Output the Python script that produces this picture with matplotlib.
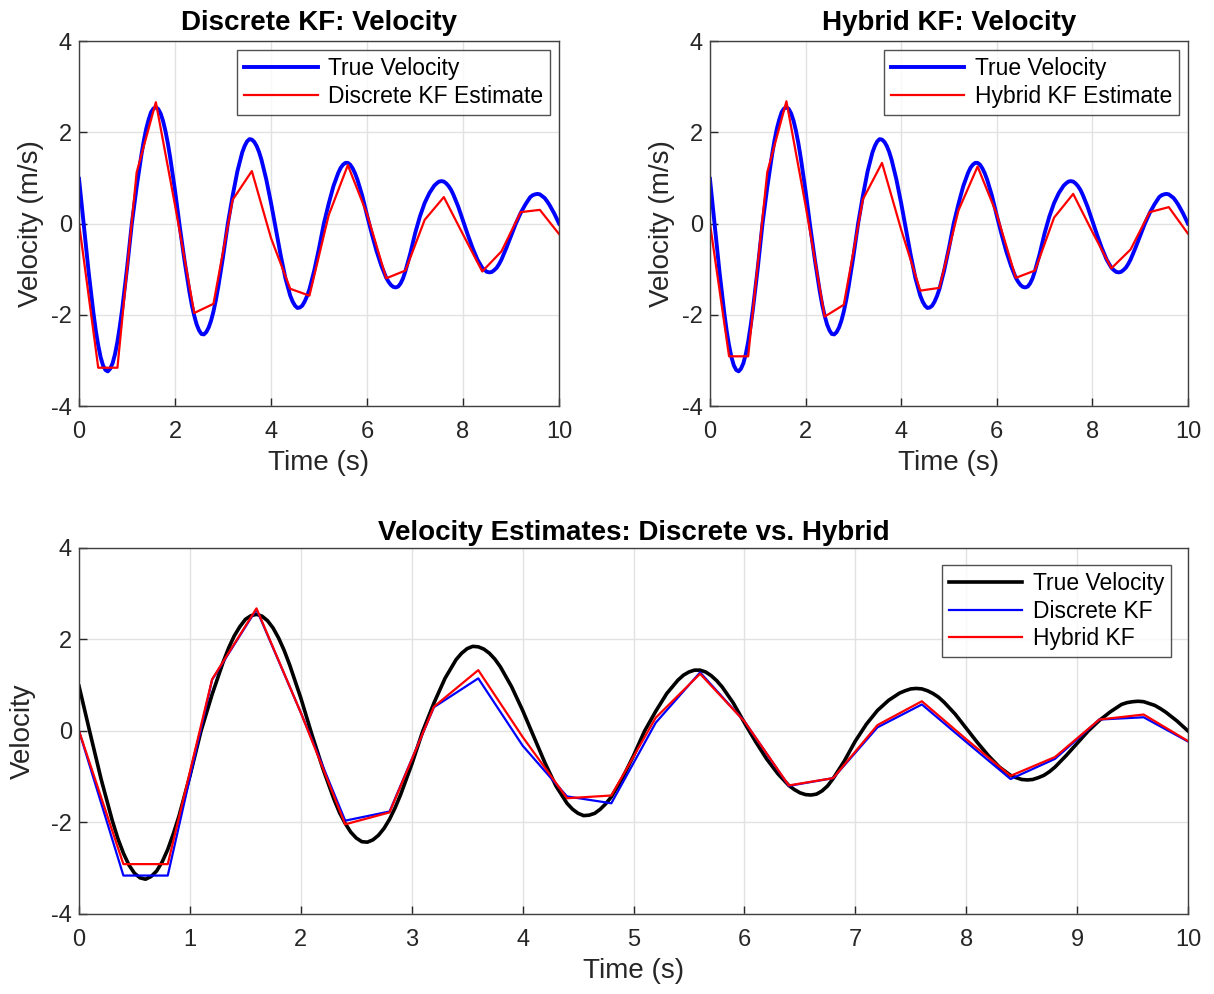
import numpy as np
import matplotlib
matplotlib.use("Agg")
import matplotlib.pyplot as plt

plt.rcParams['font.family'] = ['Liberation Sans', 'DejaVu Sans']
plt.rcParams['axes.unicode_minus'] = False

# ---- data ----
t_true = [0.0, 0.1, 0.2, 0.3, 0.35, 0.4, 0.45, 0.5, 0.55, 0.6, 0.65, 0.7, 0.75, 0.8, 0.85, 0.9,
          1.0, 1.1, 1.2, 1.3, 1.35, 1.4, 1.45, 1.5, 1.55, 1.6, 1.65, 1.7, 1.75, 1.8, 1.85, 1.9,
          2.0, 2.1, 2.2, 2.3, 2.35, 2.4, 2.45, 2.5, 2.55, 2.6, 2.65, 2.7, 2.75, 2.8, 2.85, 2.9,
          3.0, 3.1, 3.2, 3.3, 3.4, 3.45, 3.5, 3.55, 3.6, 3.65, 3.7, 3.75, 3.8, 3.9,
          4.0, 4.1, 4.2, 4.3, 4.4, 4.45, 4.5, 4.55, 4.6, 4.65, 4.7, 4.75, 4.8, 4.9,
          5.0, 5.1, 5.2, 5.3, 5.4, 5.45, 5.5, 5.55, 5.6, 5.65, 5.7, 5.75, 5.8, 5.9,
          6.0, 6.1, 6.2, 6.3, 6.4, 6.45, 6.5, 6.55, 6.6, 6.65, 6.7, 6.75, 6.8, 6.9,
          7.0, 7.1, 7.2, 7.3, 7.4, 7.45, 7.5, 7.55, 7.6, 7.65, 7.7, 7.75, 7.8, 7.9,
          8.0, 8.1, 8.2, 8.3, 8.4, 8.45, 8.5, 8.55, 8.6, 8.65, 8.7, 8.75, 8.8, 8.9,
          9.0, 9.1, 9.2, 9.3, 9.4, 9.45, 9.5, 9.55, 9.6, 9.65, 9.7, 9.75, 9.8, 9.9,
          10.0]
v_true = [0.98, -0.05, -1.06, -1.96, -2.35, -2.67, -2.93, -3.11, -3.21, -3.24, -3.18, -3.06, -2.86, -2.59, -2.25, -1.87,
          -0.98, 0.00, 0.80, 1.51, 1.82, 2.08, 2.28, 2.44, 2.52, 2.55, 2.51, 2.41, 2.25, 2.03, 1.76, 1.44,
          0.72, -0.08, -0.83, -1.50, -1.79, -2.02, -2.21, -2.34, -2.42, -2.43, -2.38, -2.28, -2.13, -1.93, -1.68, -1.39,
          -0.73, 0.00, 0.61, 1.15, 1.56, 1.70, 1.80, 1.85, 1.84, 1.79, 1.70, 1.57, 1.40, 0.97,
          0.45, -0.12, -0.69, -1.20, -1.58, -1.71, -1.80, -1.85, -1.84, -1.80, -1.71, -1.59, -1.44, -1.03,
          -0.54, 0.00, 0.43, 0.82, 1.11, 1.22, 1.29, 1.33, 1.33, 1.29, 1.21, 1.10, 0.96, 0.61,
          0.18, -0.23, -0.61, -0.93, -1.19, -1.28, -1.35, -1.39, -1.40, -1.38, -1.31, -1.20, -1.04, -0.66,
          -0.22, 0.15, 0.45, 0.67, 0.83, 0.88, 0.92, 0.93, 0.92, 0.88, 0.82, 0.74, 0.63, 0.37,
          0.06, -0.25, -0.54, -0.79, -0.97, -1.02, -1.06, -1.07, -1.06, -1.02, -0.97, -0.89, -0.79, -0.54,
          -0.27, 0.00, 0.23, 0.42, 0.58, 0.62, 0.64, 0.65, 0.64, 0.60, 0.56, 0.49, 0.41, 0.22,
          0.00]

t_est = [0.0, 0.4, 0.8, 1.2, 1.6, 2.0, 2.4, 2.8, 3.2, 3.6, 4.0, 4.4, 4.8, 5.2, 5.6,
         6.0, 6.4, 6.8, 7.2, 7.6, 8.0, 8.4, 8.8, 9.2, 9.6, 10.0]
v_discrete = [0.00, -3.16, -3.16, 1.12, 2.66, 0.40, -1.96, -1.76, 0.52, 1.15,
              -0.32, -1.43, -1.58, 0.18, 1.28, 0.21, -1.20, -1.03, 0.08, 0.58,
              -0.24, -1.05, -0.61, 0.25, 0.30, -0.23]
v_hybrid = [0.00, -2.91, -2.91, 1.13, 2.68, 0.40, -2.04, -1.78, 0.53, 1.33,
            -0.13, -1.47, -1.41, 0.29, 1.25, 0.21, -1.19, -1.03, 0.13, 0.65,
            -0.18, -0.98, -0.57, 0.25, 0.36, -0.22]

top_xticks = [0, 2, 4, 6, 8, 10]
bot_xticks = list(range(0, 11))
yticks = [-4, -2, 0, 2, 4]

AX_COL = '0.25'
GRID_COL = '#e2e2e2'
TICK_FS = 17
LAB_FS = 20
TITLE_FS = 20
LEG_FS = 16.5


def style(ax, xticks):
    ax.set_xlim(0, 10)
    ax.set_ylim(-4, 4)
    ax.set_xticks(xticks)
    ax.set_yticks(yticks)
    ax.grid(True, color=GRID_COL, linewidth=1.0)
    ax.set_axisbelow(True)
    for s in ax.spines.values():
        s.set_color(AX_COL)
        s.set_linewidth(1.0)
    ax.tick_params(direction='in', length=6, width=1.0, colors='0.15',
                   labelsize=TICK_FS)
    ax.tick_params(axis='x', pad=11)
    ax.tick_params(axis='y', pad=5)


fig = plt.figure(figsize=(12.14, 9.94), dpi=100)
ax1 = fig.add_axes([0.0651, 0.5915, 0.3954, 0.3672])
ax2 = fig.add_axes([0.5848, 0.5915, 0.3937, 0.3672])
ax3 = fig.add_axes([0.0651, 0.0805, 0.9135, 0.3682])

for ax, est, name, title in [(ax1, v_discrete, 'Discrete KF Estimate', 'Discrete KF: Velocity'),
                             (ax2, v_hybrid, 'Hybrid KF Estimate', 'Hybrid KF: Velocity')]:
    ax.plot(t_true, v_true, color='#0000ff', linewidth=2.8, label='True Velocity')
    ax.plot(t_est, est, color='#ff0000', linewidth=1.6, label=name)
    style(ax, top_xticks)
    ax.set_xlabel('Time (s)', fontsize=LAB_FS, color='0.15', labelpad=5)
    ax.set_ylabel('Velocity (m/s)', fontsize=LAB_FS, color='0.15', labelpad=5)
    ax.set_title(title, fontsize=TITLE_FS, fontweight='bold', pad=8)
    leg = ax.legend(loc='upper right', fontsize=LEG_FS, frameon=True, fancybox=False,
                    edgecolor='0.15', handlelength=3.2, borderpad=0.3,
                    labelspacing=0.22, handletextpad=0.45, borderaxespad=0.4)
    leg.get_frame().set_linewidth(1.0)

ax3.plot(t_true, v_true, color='black', linewidth=2.6, label='True Velocity')
ax3.plot(t_est, v_discrete, color='#0000ff', linewidth=1.6, label='Discrete KF')
ax3.plot(t_est, v_hybrid, color='#ff0000', linewidth=1.6, label='Hybrid KF')
style(ax3, bot_xticks)
ax3.set_xlabel('Time (s)', fontsize=LAB_FS, color='0.15', labelpad=5)
ax3.set_ylabel('Velocity', fontsize=LAB_FS, color='0.15', labelpad=11)
ax3.set_title('Velocity Estimates: Discrete vs. Hybrid', fontsize=TITLE_FS,
              fontweight='bold', pad=6)
leg = ax3.legend(loc='upper right', fontsize=LEG_FS, frameon=True, fancybox=False,
                 edgecolor='0.15', handlelength=3.2, borderpad=0.3,
                 labelspacing=0.2, handletextpad=0.45, borderaxespad=0.75)
leg.get_frame().set_linewidth(1.0)

fig.savefig('out.png', dpi=100)
